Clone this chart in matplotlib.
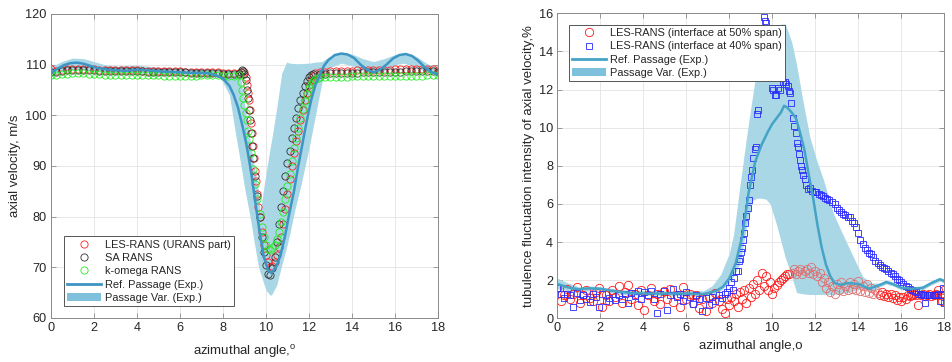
import numpy as np
import matplotlib
matplotlib.use("Agg")
import matplotlib.pyplot as plt
from matplotlib.lines import Line2D
from matplotlib.patches import Patch

plt.rcParams['font.family'] = ['Liberation Sans', 'DejaVu Sans']
plt.rcParams['mathtext.fontset'] = 'custom'
plt.rcParams['mathtext.rm'] = 'Liberation Sans'
plt.rcParams['font.size'] = 8.5

# ---------------- left panel data ----------------
xticks_l = [0, 2, 4, 6, 8, 10, 12, 14, 16, 18]
yticks_l = [60, 70, 80, 90, 100, 110, 120]

les_x = [0, 0.25, 0.5, 0.75, 1, 1.25, 1.5, 1.75, 2, 2.25, 2.5, 2.75, 3, 3.25, 3.5, 3.75, 4, 4.25, 4.5, 4.75,
         5, 5.25, 5.5, 5.75, 6, 6.25, 6.5, 6.75, 7, 7.25, 7.5, 7.75, 8, 8.25, 8.5, 8.75, 9.0,
         9.05, 9.1, 9.15, 9.2, 9.25, 9.3, 9.35, 9.4, 9.45, 9.5, 9.55, 9.6, 9.65, 9.7, 9.8, 9.9, 10.0, 10.1,
         10.2, 10.3, 10.4, 10.5, 10.6, 10.7, 10.8, 10.9, 11.0, 11.1, 11.2, 11.3, 11.4, 11.5, 11.6, 11.7,
         11.8, 11.9, 12.0, 12.1, 12.2, 12.3,
         12.5, 12.75, 13, 13.25, 13.5, 13.75, 14, 14.25, 14.5, 14.75, 15, 15.25, 15.5, 15.75, 16, 16.25,
         16.5, 16.75, 17, 17.25, 17.5, 17.75, 18]
les_y = [109.2, 108.8, 109.0, 109.1, 109.2, 109.2, 109.2, 109.1, 109.1, 109.0, 109.0, 109.0, 108.9, 108.9,
         108.9, 108.9, 108.9, 108.8, 108.8, 108.8, 108.8, 108.7, 108.7, 108.7, 108.7, 108.6, 108.6, 108.6,
         108.6, 108.5, 108.5, 108.5, 108.4, 108.4, 108.3, 108.4, 108.6,
         107.5, 106, 104.5, 103, 101, 98.5, 96.5, 94, 91.5, 89, 87, 84.5, 82, 80, 77, 74.5, 72.5, 71,
         70, 70.3, 71, 72.5, 74, 76, 78.5, 81.5, 84.5, 87.5, 90, 92.5, 95, 97, 99, 101,
         103, 104.5, 106, 107, 107.8, 108.3,
         108.5, 108.6, 108.7, 108.7, 108.8, 108.8, 108.8, 108.9, 108.9, 108.9, 109.0, 109.0, 109.0, 109.0,
         109.1, 109.1, 109.1, 109.1, 109.2, 109.2, 109.2, 109.1, 109.0]

sa_x = [0, 0.25, 0.5, 0.75, 1, 1.25, 1.5, 1.75, 2, 2.25, 2.5, 2.75, 3, 3.25, 3.5, 3.75, 4, 4.25, 4.5, 4.75,
        5, 5.25, 5.5, 5.75, 6, 6.25, 6.5, 6.75, 7, 7.25, 7.5, 7.75, 8, 8.25, 8.5, 8.75, 8.85, 8.9, 8.95, 9.0,
        9.05, 9.1, 9.15, 9.2, 9.25, 9.3, 9.35, 9.4, 9.5, 9.6, 9.7, 9.8, 9.9, 10.0, 10.1,
        10.2, 10.3, 10.4, 10.5, 10.6, 10.7, 10.8, 10.9, 11.0, 11.1, 11.2, 11.3, 11.4, 11.5, 11.6, 11.7,
        11.8, 11.9, 12.0, 12.1, 12.2,
        12.5, 12.75, 13, 13.25, 13.5, 13.75, 14, 14.25, 14.5, 14.75, 15, 15.25, 15.5, 15.75, 16, 16.25,
        16.5, 16.75, 17, 17.25, 17.5, 17.75, 18]
sa_y = [108.5, 108.6, 108.8, 108.9, 109.0, 109.0, 109.0, 108.9, 108.9, 108.8, 108.8, 108.8, 108.7, 108.7,
        108.7, 108.7, 108.7, 108.7, 108.6, 108.6, 108.6, 108.6, 108.5, 108.5, 108.5, 108.5, 108.4, 108.4,
        108.4, 108.4, 108.3, 108.3, 108.2, 108.1, 108.1, 108.2, 108.6, 108.9, 108.7, 108.2,
        107, 105, 103.5, 101, 99, 96.5, 94, 91.5, 88, 84, 80, 76, 73, 70.5, 68.7,
        68.5, 69.8, 72, 75, 78.5, 82, 85, 88, 90.5, 93, 95.5, 97.5, 99.5, 101.5, 103, 104.5,
        105.8, 106.8, 107.5, 107.9, 108.1,
        108.2, 108.2, 108.3, 108.3, 108.3, 108.4, 108.4, 108.4, 108.5, 108.5, 108.5, 108.5, 108.6, 108.6,
        108.6, 108.6, 108.7, 108.7, 108.7, 108.7, 108.8, 108.8, 108.6]

kw_x = [0, 0.25, 0.5, 0.75, 1, 1.25, 1.5, 1.75, 2, 2.25, 2.5, 2.75, 3, 3.25, 3.5, 3.75, 4, 4.25, 4.5, 4.75,
        5, 5.25, 5.5, 5.75, 6, 6.25, 6.5, 6.75, 7, 7.25, 7.5, 7.75, 8, 8.25, 8.5, 8.75,
        8.85, 8.9, 8.95, 9.0, 9.05, 9.1, 9.15, 9.2, 9.3, 9.4, 9.5, 9.6, 9.7, 9.8, 9.9, 10.0, 10.1,
        10.2, 10.3, 10.4, 10.5, 10.6, 10.7, 10.8, 10.9, 11.0, 11.1, 11.2, 11.3, 11.4, 11.5, 11.6, 11.7,
        11.8, 11.9, 12.0, 12.1, 12.2, 12.3, 12.4,
        12.5, 12.75, 13, 13.25, 13.5, 13.75, 14, 14.25, 14.5, 14.75, 15, 15.25, 15.5, 15.75, 16, 16.25,
        16.5, 16.75, 17, 17.25, 17.5, 17.75, 18]
kw_y = [107.9, 108.0, 108.1, 108.2, 108.3, 108.3, 108.3, 108.2, 108.1, 108.1, 108.0, 108.0, 108.0, 108.0,
        108.0, 108.0, 108.0, 107.9, 107.9, 107.9, 107.9, 107.8, 107.8, 107.8, 107.8, 107.8, 107.8, 107.8,
        107.9, 107.9, 107.9, 107.9, 107.8, 107.8, 107.8, 107.9,
        106.5, 105, 103.5, 102, 100.5, 99, 97, 95.3, 92.5, 89.5, 86.5, 83.5, 80.5, 78, 76, 74.5, 73.7,
        73.5, 73.8, 74.5, 75.5, 77, 79, 81, 83.5, 86, 88.5, 91, 93.5, 95.5, 97.5, 99.5, 101.3,
        102.8, 104.2, 105.3, 106.2, 106.8, 107.2, 107.4,
        107.5, 107.5, 107.5, 107.6, 107.6, 107.6, 107.7, 107.7, 107.7, 107.7, 107.8, 107.8, 107.8, 107.8,
        107.8, 107.8, 107.8, 107.8, 107.8, 107.8, 107.9, 108.0, 108.0]

ref_l_x = [0, 0.3, 0.6, 0.9, 1.2, 1.5, 1.8, 2.1, 2.5, 3, 3.5, 4, 4.5, 5, 5.5, 6, 6.5, 7, 7.3, 7.6, 7.9,
           8.1, 8.3, 8.5, 8.7, 8.9, 9.1, 9.3, 9.5, 9.7, 9.9, 10.1, 10.2, 10.3, 10.5, 10.7, 10.9, 11.1,
           11.3, 11.5, 11.7, 11.9, 12.1, 12.3, 12.5, 12.7, 12.9, 13.2, 13.5, 13.8, 14.1, 14.4, 14.7,
           15.0, 15.3, 15.6, 15.9, 16.2, 16.5, 16.8, 17.1, 17.4, 17.7, 18]
ref_l_y = [108.4, 109.2, 109.9, 110.3, 110.4, 110.2, 109.8, 109.4, 109.1, 108.9, 108.8, 109.0, 108.9,
           108.7, 108.6, 108.5, 108.4, 108.4, 108.3, 108.0, 107.5, 106.8, 105.8, 104.0, 101.5, 98.0,
           94.0, 89.0, 83.0, 77.0, 72.0, 69.4, 69.0, 69.1, 70.3, 72.8, 76.5, 81.0, 85.0, 90.0, 94.5,
           99.0, 103.0, 106.0, 108.0, 109.8, 110.9, 111.9, 112.2, 112.0, 111.3, 110.0, 109.0, 108.5,
           109.0, 110.0, 111.2, 111.9, 112.1, 111.7, 110.7, 109.4, 108.5, 108.1]

band_l_x = [0, 0.5, 1, 1.5, 2, 2.5, 3, 4, 5, 6, 7, 7.5, 7.9, 8.3, 8.56, 8.8, 9.02, 9.26, 9.45, 9.64,
            9.73, 9.88, 10.0, 10.19, 10.26, 10.5, 10.73, 10.96, 11.1, 11.35, 11.6, 12.0, 12.3, 12.6,
            12.9, 13.5, 14, 14.5, 15, 15.5, 16, 16.4, 17, 17.5, 18]
band_l_lo = [107.8, 108.5, 109.0, 109.0, 108.7, 108.4, 108.3, 108.3, 108.1, 108.0, 107.9, 107.8, 107.3,
             104.0, 97.0, 91.0, 85.3, 80.0, 75.0, 70.4, 69.0, 67.0, 65.5, 64.5, 64.6, 66.5, 70.4,
             74.0, 76.5, 81.5, 85.8, 93.5, 100.0, 106.5, 109.3, 110.3, 109.8, 108.8, 108.3, 108.8,
             110.0, 110.3, 109.5, 108.5, 108.0]
band_l_hi = [109.6, 110.6, 111.3, 111.2, 110.6, 110.0, 109.7, 109.9, 109.5, 109.2, 109.2, 109.1, 109.0,
             109.0, 108.8, 108.2, 101.8, 95.1, 90.0, 85.3, 80.7, 85.3, 88.5, 93.5, 95.1, 101.5, 108.3,
             110.5, 110.3, 110.2, 110.2, 110.3, 110.5, 110.6, 111.5, 112.4, 112.1, 111.2, 110.6,
             111.2, 112.0, 112.3, 111.6, 110.2, 109.4]

# ---------------- right panel data ----------------
xticks_r = [0, 2, 4, 6, 8, 10, 12, 14, 16, 18]
yticks_r = [0, 2, 4, 6, 8, 10, 12, 14, 16]

r50_x = [0, 0.15, 0.3, 0.45, 0.6, 0.75, 0.9, 1.05, 1.2, 1.35, 1.5, 1.65, 1.8, 1.95, 2.1, 2.25, 2.4, 2.55,
         2.7, 2.85, 3.0, 3.15, 3.3, 3.45, 3.6, 3.75, 3.9, 4.05, 4.2, 4.35, 4.5, 4.65, 4.8, 4.95, 5.1,
         5.25, 5.4, 5.55, 5.7, 5.85, 6.0, 6.15, 6.3, 6.45, 6.6, 6.75, 6.9, 7.05, 7.2, 7.35, 7.5, 7.65,
         7.8, 7.9, 8.0, 8.1, 8.2, 8.3, 8.4, 8.5, 8.6, 8.7, 8.8, 8.9, 9.0, 9.1, 9.2, 9.3, 9.4, 9.5, 9.6,
         9.7, 9.8, 9.9, 10.0, 10.1, 10.2, 10.3, 10.4, 10.5, 10.6, 10.7, 10.8, 10.9, 11.0, 11.1, 11.2,
         11.3, 11.4, 11.5, 11.6, 11.7, 11.8, 11.9, 12.0, 12.1, 12.2, 12.3, 12.4, 12.5, 12.6, 12.7, 12.8,
         12.9, 13.0, 13.1, 13.2, 13.3, 13.4, 13.5, 13.6, 13.7, 13.8, 13.9, 14.0, 14.1, 14.2, 14.3, 14.4,
         14.5, 14.6, 14.7, 14.8, 14.9, 15.0, 15.1, 15.2, 15.3, 15.4, 15.5, 15.6, 15.7, 15.8, 15.9, 16.0,
         16.1, 16.2, 16.3, 16.4, 16.5, 16.6, 16.7, 16.8, 16.9, 17.0, 17.1, 17.2, 17.3, 17.4, 17.5, 17.6,
         17.7, 17.8, 17.9, 18.0]
r50_y = [1.6, 0.9, 1.2, 1.55, 1.0, 1.3, 1.65, 0.8, 1.2, 1.5, 1.05, 0.9, 1.4, 1.6, 0.6, 1.2, 0.9, 1.5,
         1.1, 1.7, 0.8, 1.4, 1.75, 1.0, 1.3, 0.7, 1.5, 0.45, 1.2, 1.6, 0.9, 1.3, 0.75, 1.45, 1.0,
         1.55, 0.85, 1.2, 0.6, 1.65, 1.0, 1.3, 0.8, 1.2, 0.55, 1.0, 0.4, 1.1, 0.8, 1.35, 0.9, 0.5,
         0.3, 1.0, 0.7, 1.1, 0.9, 1.3, 0.6, 1.4, 1.0, 1.5, 0.8, 1.6, 1.1, 1.8, 1.3, 2.0, 1.5, 2.4, 1.7,
         2.2, 1.5, 1.9, 1.3, 1.6, 1.75, 1.9, 2.0, 2.1, 2.2, 2.3, 2.3, 2.4, 2.6, 2.3, 2.5,
         2.6, 2.3, 2.5, 2.6, 2.4, 2.7, 2.3, 2.5, 2.2, 2.4, 1.9, 2.1, 1.6, 1.9, 1.4, 1.7,
         1.3, 1.8, 1.5, 1.9, 1.45, 1.7, 1.5, 1.9, 1.55, 1.8, 1.5, 1.95, 1.45, 1.7, 1.4, 1.8,
         1.35, 1.6, 1.3, 1.5, 1.35, 1.2, 1.4, 1.15, 1.3, 1.1, 1.25, 1.05, 1.2, 0.95, 1.1, 0.9,
         1.1, 1.0, 1.2, 1.15, 1.2, 1.25, 1.2, 0.7, 1.2, 1.3, 1.15, 1.2, 1.25, 1.15, 1.2, 1.25,
         1.5, 1.2, 0.9, 1.5]

r40_x = [0, 0.15, 0.3, 0.45, 0.6, 0.75, 0.9, 1.05, 1.2, 1.35, 1.5, 1.65, 1.8, 1.95, 2.1, 2.25, 2.4, 2.55,
         2.7, 2.85, 3.0, 3.15, 3.3, 3.45, 3.6, 3.75, 3.9, 4.05, 4.2, 4.35, 4.5, 4.65, 4.8, 4.95, 5.1,
         5.25, 5.4, 5.55, 5.7, 5.85, 6.0, 6.15, 6.3, 6.45, 6.6, 6.75, 6.9, 7.05, 7.2, 7.35, 7.5, 7.65,
         7.8, 7.9, 8.0, 8.1, 8.16, 8.2, 8.3, 8.39, 8.45, 8.5, 8.55, 8.6, 8.65, 8.7, 8.75, 8.78, 8.85,
         8.9, 8.94, 9.0, 9.05, 9.12, 9.2, 9.22, 9.3, 9.32, 9.62, 9.66, 9.72, 10.0, 10.03, 10.12, 10.18,
         10.26, 10.35, 10.5, 10.57, 10.65, 10.72, 10.78, 10.82, 10.88, 10.96, 11.03, 11.08, 11.14,
         11.19, 11.24, 11.27, 11.33, 11.4, 11.45, 11.5, 11.58, 11.66, 11.75, 11.85, 11.97, 12.05,
         12.15, 12.25, 12.35, 12.45, 12.55, 12.66, 12.78, 12.9, 13.0, 13.1, 13.2, 13.3, 13.4, 13.5,
         13.6, 13.7, 13.8, 13.9, 14.0, 14.1, 14.2, 14.3, 14.4, 14.5, 14.6, 14.7, 14.8, 14.9, 15.0,
         15.1, 15.2, 15.3, 15.4, 15.5, 15.6, 15.7, 15.8, 15.9, 16.0, 16.1, 16.2, 16.3, 16.4, 16.5,
         16.6, 16.7, 16.8, 16.9, 17.0, 17.1, 17.1, 17.2, 17.3, 17.4, 17.5, 17.6, 17.7, 17.8, 17.85,
         17.95, 18.0]
r40_y = [1.6, 1.3, 1.05, 1.3, 1.2, 0.6, 1.35, 0.95, 1.2, 1.0, 0.85, 1.3, 1.1, 0.6, 1.25, 0.9, 1.05, 1.3,
         0.95, 1.2, 1.0, 1.3, 0.8, 1.35, 1.15, 1.45, 1.0, 1.4, 1.2, 1.45, 1.0, 0.3, 1.3, 1.45, 0.45,
         1.2, 1.55, 1.1, 1.3, 0.9, 1.4, 1.1, 0.75, 1.2, 1.0, 0.4, 1.05, 0.7, 1.1, 0.9, 1.2, 1.05,
         1.3, 1.4, 1.6, 1.9, 1.5, 2.1, 2.5, 2.5, 3.0, 3.1, 3.5, 3.7, 4.1, 4.5, 5.0, 5.35, 5.8,
         6.2, 7.0, 7.4, 7.8, 8.4, 8.9, 9.0, 10.7, 10.95, 15.8, 15.6, 15.5, 12.1, 12.0, 11.7, 11.7,
         12.1, 12.0, 12.4, 12.4, 12.3, 12.2, 11.9, 11.8, 11.3, 10.5, 10.1, 9.7, 9.2,
         9.0, 8.6, 8.3, 8.0, 7.8, 7.5, 7.3, 7.0, 6.8, 6.85, 6.7, 6.6, 6.6,
         6.5, 6.45, 6.4, 6.3, 6.25, 6.2, 6.1, 6.0, 5.8, 5.7, 5.6, 5.45, 5.4, 5.3,
         5.3, 5.1, 5.0, 4.8, 4.5, 4.1, 3.9, 3.7, 3.6, 3.45, 3.35, 3.2, 3.0, 2.9, 2.8,
         2.7, 2.65, 2.6, 2.5, 2.4, 2.3, 2.2, 2.05, 2.0, 1.9, 1.8, 1.7, 1.65, 1.55, 1.5,
         1.45, 1.4, 1.3, 1.25, 1.2, 1.2, 0.8, 1.2, 1.2, 1.2, 1.2, 1.2, 1.25, 0.9, 1.2,
         1.6, 0.8]

ref_r_x = [0, 0.5, 1, 1.5, 2, 2.5, 3, 3.5, 4, 4.5, 5, 5.5, 6, 6.5, 6.8, 7.1, 7.4, 7.7, 8.0, 8.3, 8.6,
           8.9, 9.2, 9.5, 9.8, 10.0, 10.2, 10.4, 10.55, 10.7, 10.9, 11.1, 11.3, 11.5, 11.7, 11.9, 12.1,
           12.3, 12.5, 12.7, 12.9, 13.2, 13.5, 14, 14.5, 15, 15.3, 15.6, 16, 16.5, 17, 17.4, 17.8, 18]
ref_r_y = [1.8, 1.62, 1.52, 1.57, 1.55, 1.45, 1.38, 1.32, 1.3, 1.3, 1.3, 1.3, 1.3, 1.27, 1.27, 1.35,
           1.45, 1.65, 2.1, 2.9, 4.3, 6.6, 8.2, 9.1, 9.8, 10.2, 10.5, 10.8, 11.15, 11.05, 10.8, 10.5,
           9.7, 8.8, 7.5, 6.3, 4.9, 3.7, 2.8, 2.2, 1.85, 1.75, 1.85, 1.8, 1.55, 1.75, 1.9, 1.8, 1.6,
           1.55, 1.6, 1.85, 2.05, 1.95]

band_r_x = [0, 0.5, 1, 1.5, 2, 3, 4, 5, 6, 6.8, 7.2, 7.6, 8.0, 8.2, 8.5, 8.8, 9.1, 9.3, 9.5, 9.7, 9.9,
            10.2, 10.6, 10.9, 11.13, 11.44, 11.75, 12.06, 12.4, 12.84, 13.2, 13.61, 14.2, 14.6, 15,
            15.3, 15.6, 16, 16.5, 17, 17.4, 17.8, 18]
band_r_lo = [1.55, 1.45, 1.35, 1.45, 1.45, 1.25, 1.2, 1.2, 1.2, 1.15, 1.25, 1.45, 1.9, 2.2, 2.9, 4.8,
             6.2, 6.3, 6.3, 6.25, 6.0, 4.9, 3.2, 2.2, 1.35, 1.28, 1.25, 1.25, 1.25, 1.25, 1.3, 1.4,
             1.55, 1.45, 1.65, 1.8, 1.7, 1.5, 1.45, 1.5, 1.75, 1.95, 1.85]
band_r_hi = [2.1, 1.85, 1.65, 1.7, 1.65, 1.5, 1.45, 1.45, 1.45, 1.45, 1.7, 2.3, 3.4, 4.4, 7.0, 9.5,
             11.8, 13.2, 14.2, 14.9, 15.2, 15.4, 15.45, 14.5, 13.3, 11.3, 9.5, 8.3, 7.2, 5.5, 4.6,
             3.6, 2.2, 1.85, 1.85, 2.0, 1.9, 1.7, 1.65, 1.7, 1.95, 2.15, 2.05]

# ---------------- styling ----------------
LINE_L = '#3d95c4'
LINE_R = '#45a3c6'
BAND = '#a9d7e6'
BAND_LEG = '#7fc0dd'
SPINE = '#8a8a8a'
TXT = '#262626'
TICK_FS = 9.2
LABEL_FS = 9.5
LEG_FS = 7.9


def style_axes(ax, xt, yt, xlim, ylim):
    ax.set_xlim(*xlim)
    ax.set_ylim(*ylim)
    ax.set_xticks(xt)
    ax.set_yticks(yt)
    ax.grid(True, color='#e3e3e3', linewidth=0.6, zorder=0)
    ax.set_axisbelow(True)
    for s in ax.spines.values():
        s.set_color(SPINE)
        s.set_linewidth(0.7)
    ax.tick_params(direction='in', length=3.5, width=0.6, color=SPINE, labelcolor=TXT,
                   labelsize=TICK_FS, top=True, right=True, pad=3)


def make_legend(ax, handles, labels, **kw):
    leg = ax.legend(handles, labels, borderaxespad=0, fontsize=LEG_FS, handlelength=3.1,
                    handletextpad=0.3, labelspacing=0.3, borderpad=0.3, fancybox=False,
                    framealpha=1, edgecolor='#555555', **kw)
    leg.get_frame().set_linewidth(0.7)
    for t in leg.get_texts():
        t.set_color(TXT)
    return leg


fig = plt.figure(figsize=(9.53, 3.62), dpi=100)

# left
ax1 = fig.add_axes([51 / 953, 44 / 362, 387 / 953, 304 / 362])
style_axes(ax1, xticks_l, yticks_l, (0, 18), (60, 120))
ax1.fill_between(band_l_x, band_l_lo, band_l_hi, color=BAND, linewidth=0, zorder=1)
mk = dict(linestyle='none', marker='o', markersize=5.2, markerfacecolor='none', markeredgewidth=0.6)
ax1.plot(les_x, les_y, markeredgecolor='#ff2020', zorder=2, **mk)
ax1.plot(sa_x, sa_y, markeredgecolor='#303030', zorder=2.1, **mk)
ax1.plot(kw_x, kw_y, markeredgecolor='#22ee22', zorder=2.2, **mk)
ax1.plot(ref_l_x, ref_l_y, color=LINE_L, linewidth=1.8, zorder=3, solid_capstyle='round')
ax1.set_xlabel('azimuthal angle,$^{\\mathrm{o}}$', fontsize=LABEL_FS, color=TXT, labelpad=6)
ax1.set_ylabel('axial velocity, m/s', fontsize=LABEL_FS, color=TXT, labelpad=3)

h1 = [Line2D([], [], markeredgecolor='#ff2020', **mk),
      Line2D([], [], markeredgecolor='#303030', **mk),
      Line2D([], [], markeredgecolor='#22ee22', **mk),
      Line2D([], [], color=LINE_L, linewidth=2),
      Patch(facecolor=BAND_LEG, edgecolor='none')]
l1 = ['LES-RANS (URANS part)', 'SA RANS', 'k-omega RANS', 'Ref. Passage (Exp.)', 'Passage Var. (Exp.)']
make_legend(ax1, h1, l1, loc='lower left', bbox_to_anchor=(0.034, 0.039))

# right
ax2 = fig.add_axes([557.3 / 953, 43.7 / 362, 387 / 953, 305 / 362])
style_axes(ax2, xticks_r, yticks_r, (0, 18), (0, 16))
ax2.fill_between(band_r_x, band_r_lo, band_r_hi, color=BAND, linewidth=0, zorder=1)
mk2 = dict(linestyle='none', marker='o', markersize=6, markerfacecolor='none', markeredgewidth=0.6)
mks = dict(linestyle='none', marker='s', markersize=5, markerfacecolor='none', markeredgewidth=0.6)
rx = np.array(r50_x)
ry = np.array(r50_y)
pale = (rx > 10.85) & (rx < 14.95)
ax2.plot(rx[~pale], ry[~pale], markeredgecolor='#ff1a1a', zorder=2, **mk2)
ax2.plot(rx[pale], ry[pale], markeredgecolor='#e07070', zorder=2, **mk2)
ax2.plot(r40_x, r40_y, markeredgecolor='#2a2aff', zorder=2.1, **mks)
ax2.plot(ref_r_x, ref_r_y, color=LINE_R, linewidth=1.8, zorder=3, solid_capstyle='round')
ax2.set_xlabel('azimuthal angle,o', fontsize=LABEL_FS, color=TXT, labelpad=4)
ax2.set_ylabel('tubulence fluctuation intensity of axial velocity,%', fontsize=LABEL_FS, color=TXT,
               labelpad=3)

h2 = [Line2D([], [], markeredgecolor='#ff1a1a', **mk2),
      Line2D([], [], markeredgecolor='#2a2aff', **mks),
      Line2D([], [], color=LINE_R, linewidth=2),
      Patch(facecolor=BAND_LEG, edgecolor='none')]
l2 = ['LES-RANS (interface at 50% span)', 'LES-RANS (interface at 40% span)',
      'Ref. Passage (Exp.)', 'Passage Var. (Exp.)']
make_legend(ax2, h2, l2, loc='upper left', bbox_to_anchor=(0.030, 0.962))

fig.savefig('out.png', dpi=100)
